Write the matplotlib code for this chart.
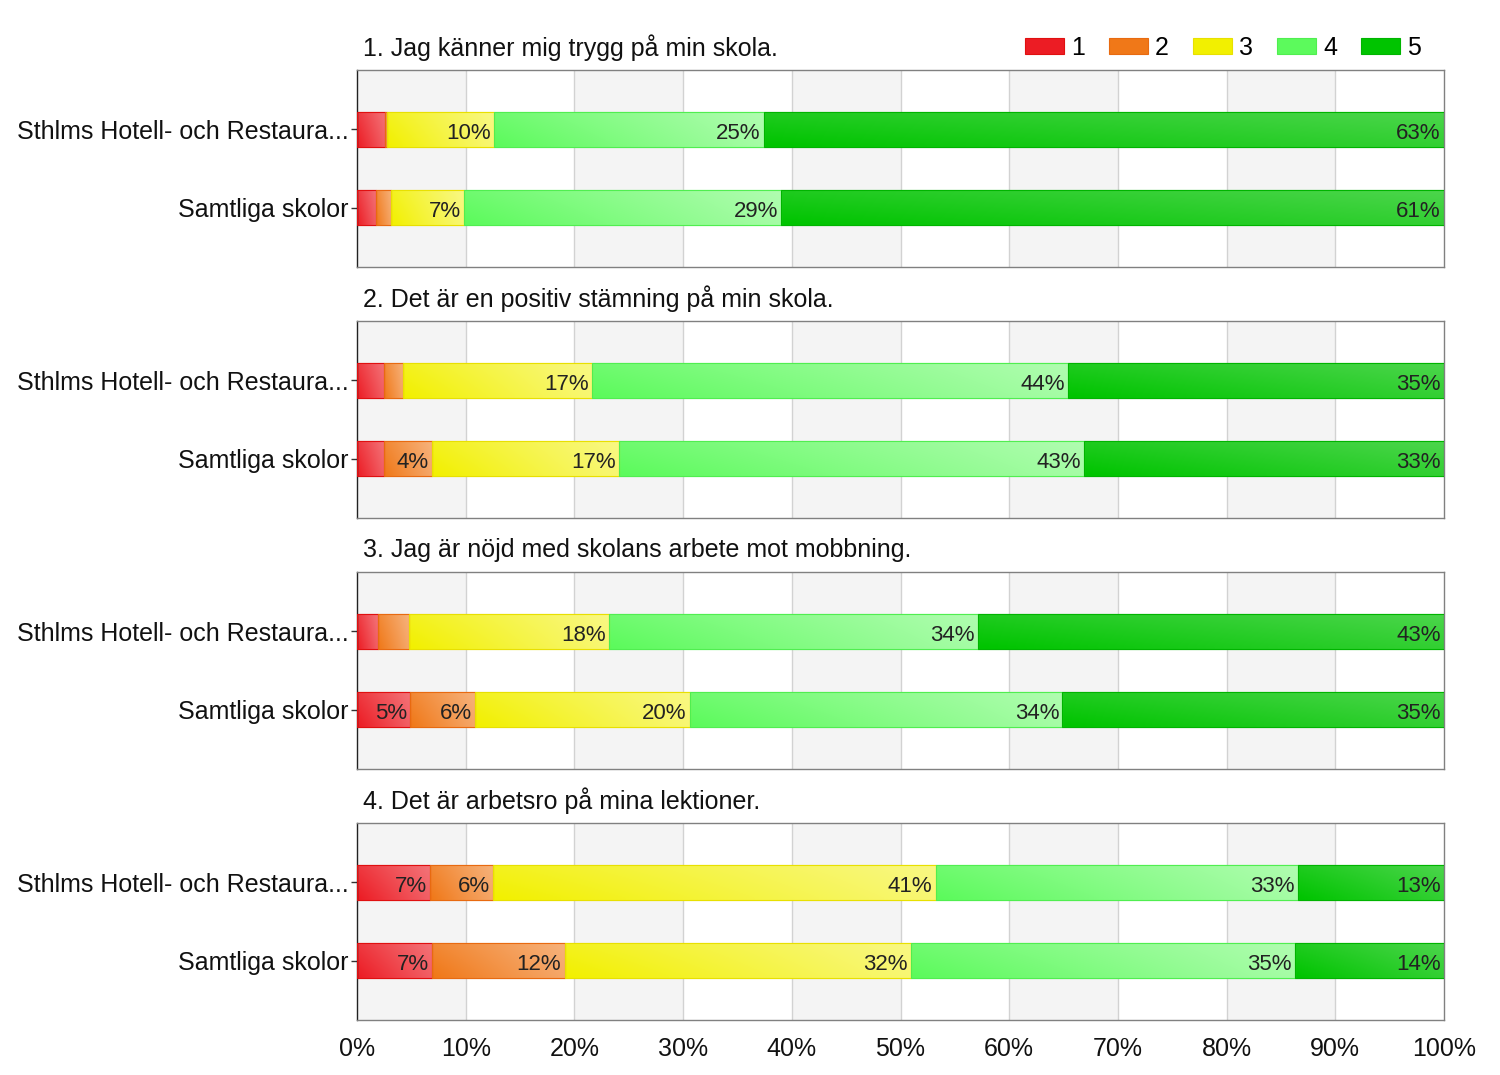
import numpy as np
import matplotlib
matplotlib.use("Agg")
import matplotlib.pyplot as plt
from matplotlib.colors import to_rgb
from matplotlib.patches import Patch

plt.rcParams['font.family'] = ['Liberation Sans', 'DejaVu Sans']

questions = [
    "1. Jag känner mig trygg på min skola.",
    "2. Det är en positiv stämning på min skola.",
    "3. Jag är nöjd med skolans arbete mot mobbning.",
    "4. Det är arbetsro på mina lektioner.",
]
groups = ["Sthlms Hotell- och Restaura...", "Samtliga skolor"]
levels = ["1", "2", "3", "4", "5"]

# percent per level (1..5) for [Sthlms, Samtliga] in each question
q1 = [[2.6, 0.2, 9.8, 24.85, 62.55], [1.75, 1.4, 6.7, 29.2, 60.95]]
q2 = [[2.5, 1.75, 17.4, 43.8, 34.55], [2.5, 4.4, 17.2, 42.8, 33.1]]
q3 = [[1.9, 2.85, 18.4, 34.0, 42.85], [4.9, 6.0, 19.7, 34.3, 35.1]]
q4 = [[6.7, 5.8, 40.75, 33.3, 13.45], [6.9, 12.2, 31.9, 35.3, 13.7]]
data = [q1, q2, q3, q4]

colors = ["#ec1c24", "#f07818", "#f2f000", "#5cfa5c", "#00c400"]
edges = ["#e01010", "#e86a10", "#e8e000", "#50ee50", "#00b400"]
light = [0.3, 0.35, 0.45, 0.45, 0.2]
xticks = [0, 10, 20, 30, 40, 50, 60, 70, 80, 90, 100]
xticklabels = [f"{t}%" for t in xticks]

W, H = 1500, 1075
fig = plt.figure(figsize=(15, 10.75), dpi=100)

left = 357 / W
width = (1444 - 357) / W
ax_h = 197 / H
tops = [70, 321, 572, 823]


def lighten(c, f):
    r = np.array(to_rgb(c))
    return r + (1 - r) * f


for qi, (q, vals) in enumerate(zip(questions, data)):
    top = tops[qi]
    ax = fig.add_axes([left, 1 - (top + 197) / H, width, ax_h])
    ax.set_xlim(0, 100)
    ax.set_ylim(1.76, -0.76)
    # background bands
    for b in range(0, 100, 20):
        ax.axvspan(b, b + 10, color="#f4f4f4", zorder=0, lw=0)
    for t in xticks[1:-1]:
        ax.axvline(t, color="#d2d2d2", lw=1, zorder=0.5)

    arr = np.array(vals)
    ypos = np.arange(len(groups))
    lefts = np.zeros(len(groups))
    for li in range(len(levels)):
        bars = ax.barh(ypos, arr[:, li], left=lefts, height=0.45,
                       color=colors[li], edgecolor=edges[li], lw=0.8, zorder=2)
        c0 = lighten(colors[li], 0.0)
        c1 = lighten(colors[li], light[li])
        grad = np.linspace(0, 1, 64)
        img = np.zeros((8, 64, 3))
        for k in range(3):
            img[:, :, k] = c0[k] + (c1[k] - c0[k]) * grad[None, :]
        vert = np.linspace(0.12, 0.0, 8)[:, None, None]
        img = img + (1 - img) * vert
        for rect, v, l0, y in zip(bars, arr[:, li], lefts, ypos):
            if v <= 0:
                continue
            x0, y0 = rect.get_x(), rect.get_y()
            w, h = rect.get_width(), rect.get_height()
            im = ax.imshow(img, extent=(x0, x0 + w, y0 + h, y0), aspect='auto',
                           zorder=2.5, interpolation='bilinear')
            im.set_clip_path(rect)
            ax.add_patch(plt.Rectangle((x0, y0), w, h, fill=False,
                                       edgecolor=edges[li], lw=0.8, zorder=2.6))
            if v >= 3.5:
                ax.text(l0 + v - 0.3, y + 0.05, f"{int(round(v))}%",
                        ha='right', va='center', fontsize=16, color="#222222",
                        zorder=3)
        lefts = lefts + arr[:, li]

    ax.set_yticks(ypos)
    ax.set_yticklabels(groups, fontsize=18, color="#111111")
    ax.tick_params(axis='y', length=4, width=1, pad=2, color="#333333")
    ax.set_xticks(xticks)
    if qi == 3:
        ax.set_xticklabels(xticklabels, fontsize=18, color="#111111")
        ax.tick_params(axis='x', length=0, pad=12)
    else:
        ax.set_xticklabels([])
        ax.tick_params(axis='x', length=0)
    for s in ['top', 'right', 'bottom']:
        ax.spines[s].set_color("#808080")
        ax.spines[s].set_linewidth(1)
    ax.spines['left'].set_color("#222222")
    ax.spines['left'].set_linewidth(1)

    ax.text(6 / 1087, 1 + 22 / 197, q, transform=ax.transAxes, fontsize=18,
            ha='left', va='center', color="#111111")

handles = [Patch(facecolor=colors[i], edgecolor=edges[i], lw=0.8) for i in range(5)]
fig.legend(handles, levels, loc='center right', bbox_to_anchor=(1421 / W, 1 - 48 / H),
           ncol=5, frameon=False, fontsize=18, handlelength=1.55, handleheight=0.6,
           handletextpad=0.3, columnspacing=0.95, borderpad=0, borderaxespad=0)

fig.savefig("out.png", dpi=100)
